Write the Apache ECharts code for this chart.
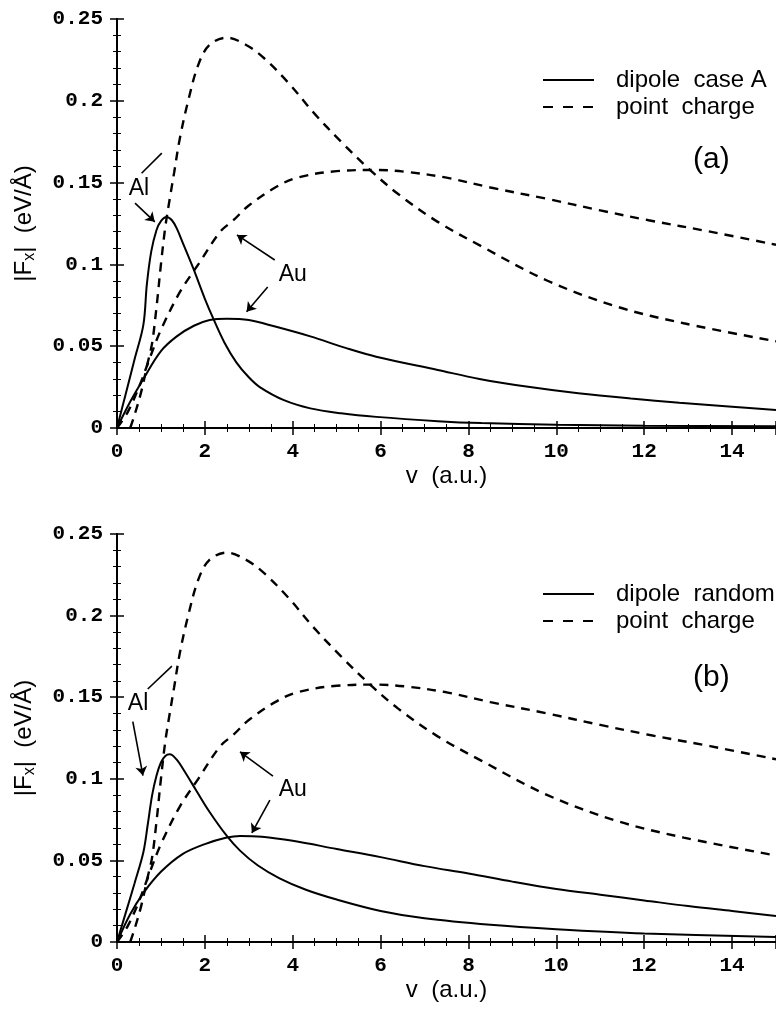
<!DOCTYPE html>
<html>
<head>
<meta charset="utf-8">
<style>
  html, body { margin: 0; padding: 0; background: #fff; }
  #chart { width: 776px; height: 1009px; }
</style>
<script src="https://cdn.jsdelivr.net/npm/echarts@6/dist/echarts.min.js"></script>
</head>
<body>
<div id="chart"></div>
<script>
// x tick values on the axis: 0..14 (15 = right edge)
var vTicks = [0, 2, 4, 6, 8, 10, 12, 14];

// point charge curves, same in both panels: [v, |Fx|]
var alPoint = [[0.3, 0], [0.4, 0.008], [0.55, 0.022], [0.7, 0.04], [0.8, 0.052], [0.9, 0.074], [1.0, 0.1],
  [1.1, 0.123], [1.2, 0.14], [1.3, 0.156], [1.43, 0.177], [1.62, 0.2], [1.85, 0.222], [2.1, 0.234],
  [2.5, 0.2386], [2.95, 0.234], [3.35, 0.226], [3.9, 0.211], [4.5, 0.192], [5.1, 0.175], [5.75, 0.158],
  [6.4, 0.143], [7.3, 0.126], [8.3, 0.111], [9.8, 0.09], [11.4, 0.074], [12.9, 0.064], [15, 0.053]];
var auPoint = [[0, 0], [0.25, 0.01], [0.5, 0.025], [0.75, 0.043], [1.0, 0.06], [1.43, 0.083], [1.85, 0.1],
  [2.35, 0.12], [2.65, 0.127], [3.0, 0.136], [3.6, 0.147], [4.1, 0.153], [5.0, 0.157], [5.9, 0.1577],
  [6.6, 0.1565], [7.5, 0.153], [8.5, 0.147], [9.8, 0.14], [11, 0.133], [12.1, 0.127], [13.5, 0.12], [15, 0.112]];

// (a) dipole case A
var alDipoleA = [[0, 0], [0.2, 0.021], [0.4, 0.042], [0.6, 0.063], [0.68, 0.088], [0.78, 0.108], [0.9, 0.121],
  [1.0, 0.1265], [1.13, 0.129], [1.25, 0.127], [1.36, 0.122], [1.5, 0.113], [1.73, 0.098], [2.0, 0.079],
  [2.19, 0.067], [2.45, 0.052], [2.72, 0.04], [3.0, 0.031], [3.25, 0.025], [3.8, 0.017], [4.4, 0.012],
  [5.1, 0.009], [5.9, 0.0068], [7.3, 0.0042], [8.3, 0.003], [10, 0.002], [12, 0.0014], [15, 0.001]];
var auDipoleA = [[0, 0], [0.3, 0.016], [0.6, 0.03], [1.0, 0.047], [1.36, 0.056], [1.75, 0.0625], [2.11, 0.066],
  [2.5, 0.0668], [3.0, 0.066], [3.6, 0.062], [4.4, 0.056], [5.2, 0.049], [5.9, 0.0436], [7.3, 0.0355],
  [8.25, 0.03], [9.4, 0.025], [10.5, 0.0212], [11.7, 0.018], [12.8, 0.0155], [14, 0.013], [15, 0.011]];

// (b) dipole random
var alDipoleB = [[0, 0], [0.2, 0.018], [0.4, 0.036], [0.6, 0.055], [0.7, 0.072], [0.8, 0.09], [0.9, 0.102],
  [1.0, 0.11], [1.1, 0.114], [1.2, 0.115], [1.35, 0.112], [1.55, 0.104], [1.8, 0.093], [2.1, 0.08],
  [2.5, 0.065], [2.8, 0.056], [3.2, 0.047], [3.7, 0.039], [4.3, 0.032], [5, 0.026], [6, 0.019],
  [7, 0.0145], [8.5, 0.0105], [10, 0.0078], [12, 0.0052], [15, 0.003]];
var auDipoleB = [[0, 0], [0.3, 0.017], [0.6, 0.03], [1.0, 0.043], [1.5, 0.054], [2.0, 0.06], [2.5, 0.064],
  [2.8, 0.065], [3.3, 0.0645], [4, 0.062], [5, 0.057], [6, 0.052], [7, 0.0465], [8, 0.042], [9, 0.037],
  [10, 0.0325], [11, 0.029], [12, 0.0255], [13, 0.022], [14, 0.019], [15, 0.016]];

// annotation arrows [from, to, arrowhead] in data units, and label spots
var arrowsA = [[[0.56, 0.1557], [1.02, 0.168], false], [[0.41, 0.1375], [0.86, 0.126], true],
  [[3.59, 0.1027], [2.73, 0.118], true], [[3.43, 0.0862], [2.95, 0.0711], true]];
var arrowsB = [[[0.70, 0.155], [1.25, 0.169], false], [[0.36, 0.135], [0.59, 0.102], true],
  [[3.55, 0.1017], [2.8, 0.1165], true], [[3.48, 0.087], [3.07, 0.0668], true]];
var labelsA = [['Al', [0.5, 0.1461]], ['Au', [4.0, 0.0935]]];
var labelsB = [['Al', [0.48, 0.1458]], ['Au', [4.0, 0.0931]]];

var sans = 'Liberation Sans';
var mono = 'Liberation Mono';

function xAxes(grid) {
  var base = {
    gridIndex: grid, type: 'value', min: 0, max: 15, interval: 2,
    splitLine: { show: false },
    axisLine: { lineStyle: { color: '#000', width: 2 } },
    axisTick: { inside: true, length: 7, lineStyle: { color: '#000', width: 1.5 } },
    minorTick: { show: true, splitNumber: 4, length: 4, lineStyle: { color: '#000', width: 1 } }
  };
  return [
    Object.assign({}, base, {
      position: 'bottom',
      axisLabel: { margin: 13, showMaxLabel: false, color: '#000', fontFamily: mono, fontWeight: 'bold', fontSize: 21 },
      name: 'v  (a.u.)', nameLocation: 'middle', nameGap: 36,
      nameTextStyle: { fontFamily: sans, fontSize: 24, color: '#000' }
    }),
    Object.assign({}, base, { position: 'top', axisLabel: { show: false } })
  ];
}

function yAxes(grid) {
  var base = {
    gridIndex: grid, type: 'value', min: 0, max: 0.25, interval: 0.05,
    splitLine: { show: false },
    axisLine: { show: true, lineStyle: { color: '#000', width: 2 } },
    axisTick: { inside: true, length: 7, lineStyle: { color: '#000', width: 1.5 } },
    minorTick: { show: true, splitNumber: 5, length: 4, lineStyle: { color: '#000', width: 1 } }
  };
  return [
    Object.assign({}, base, {
      position: 'left',
      axisLabel: { margin: 14, color: '#000', fontFamily: mono, fontWeight: 'bold', fontSize: 21 },
      name: '{a||F}{s|x}{a||  (eV/Å)}', nameLocation: 'middle', nameGap: 79,
      nameTextStyle: {
        rich: {
          a: { fontFamily: sans, fontSize: 24, color: '#000' },
          s: { fontFamily: sans, fontSize: 16, color: '#000', padding: [12, 0, 0, 0] }
        }
      }
    }),
    Object.assign({}, base, { position: 'right', axisLabel: { show: false } })
  ];
}

function curve(name, data, dashed, grid, extra) {
  var s = {
    name: name, type: 'line', data: data, xAxisIndex: grid * 2, yAxisIndex: grid * 2,
    smooth: 0.35, symbol: 'none', showSymbol: false, color: '#000',
    lineStyle: { color: '#000', width: dashed ? 2.4 : 2, type: dashed ? [9, 7] : 'solid' }
  };
  return Object.assign(s, extra || {});
}

function notes(arrows, labels) {
  return {
    markLine: {
      silent: true, symbolSize: 9, label: { show: false },
      lineStyle: { color: '#000', width: 1.6, type: 'solid' },
      data: arrows.map(function (a) {
        return [{ coord: a[0], symbol: 'none' }, { coord: a[1], symbol: a[2] ? 'arrow' : 'none' }];
      })
    },
    markPoint: {
      silent: true, symbol: 'circle', symbolSize: 1, itemStyle: { color: 'rgba(0,0,0,0)' },
      label: { show: true, position: 'inside', color: '#000', fontFamily: sans, fontSize: 23,
        formatter: function (p) { return p.name; } },
      data: labels.map(function (l) { return { name: l[0], coord: l[1] }; })
    }
  };
}

var legendBase = {
  orient: 'vertical', left: 537, itemWidth: 51, itemHeight: 14, itemGap: 3, selectedMode: false,
  itemStyle: { color: 'rgba(0,0,0,0)', borderWidth: 0 },
  lineStyle: { color: '#000' },
  textStyle: { fontFamily: sans, fontSize: 24, color: '#000', padding: [0, 0, 0, 17] }
};
var pcItem = { name: 'point  charge', lineStyle: { color: '#000', width: 2, type: [10, 10] } };

var chart = echarts.init(document.getElementById('chart'));
chart.setOption({
  animation: false,
  backgroundColor: '#fff',
  title: [
    { text: '(a)', left: 693, top: 145, padding: 0, textStyle: { fontFamily: sans, fontSize: 30, fontWeight: 'normal', color: '#000' } },
    { text: '(b)', left: 693, top: 663, padding: 0, textStyle: { fontFamily: sans, fontSize: 30, fontWeight: 'normal', color: '#000' } }
  ],
  legend: [
    Object.assign({}, legendBase, { top: 63, data: ['dipole  case A', pcItem] }),
    Object.assign({}, legendBase, { top: 577, data: ['dipole  random', pcItem] })
  ],
  grid: [
    { left: 117, top: 19, width: 660, height: 409 },
    { left: 117, top: 534, width: 660, height: 408 }
  ],
  xAxis: xAxes(0).concat(xAxes(1)),
  yAxis: yAxes(0).concat(yAxes(1)),
  series: [
    curve('point  charge', alPoint, true, 0),
    curve('point  charge', auPoint, true, 0),
    curve('dipole  case A', alDipoleA, false, 0, notes(arrowsA, labelsA)),
    curve('dipole  case A', auDipoleA, false, 0),
    curve('point  charge', alPoint, true, 1),
    curve('point  charge', auPoint, true, 1),
    curve('dipole  random', alDipoleB, false, 1, notes(arrowsB, labelsB)),
    curve('dipole  random', auDipoleB, false, 1)
  ]
});
</script>
</body>
</html>
